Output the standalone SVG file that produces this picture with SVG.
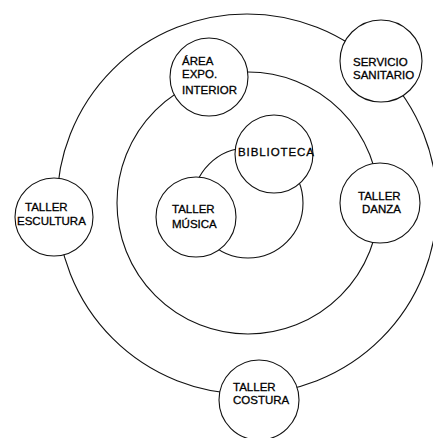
<svg xmlns="http://www.w3.org/2000/svg" width="433" height="438" viewBox="0 0 433 438">
<style>
.ring{fill:none;stroke:#111;stroke-width:1.1}
.node{fill:#fff;stroke:#111;stroke-width:1.1}
text{font-family:"Liberation Sans",Arial,sans-serif;font-size:11.5px;fill:#000;stroke:#000;stroke-width:0.3}
</style>
<rect width="433" height="438" fill="#fff"/>
<g id="connectors">
<circle class="ring" cx="247" cy="204" r="190"/>
<circle class="ring" cx="248" cy="203" r="131"/>
<circle class="ring" cx="248" cy="203" r="55"/>
</g>
<g id="area-expo"><circle class="node" cx="209" cy="77" r="39"/><text x="182" y="65">ÁREA</text><text x="182" y="78">EXPO.</text><text x="182" y="94">INTERIOR</text></g>
<g id="servicio"><circle class="node" cx="381" cy="61" r="41"/><text x="353" y="66">SERVICIO</text><text x="353" y="79">SANITARIO</text></g>
<g id="escultura"><circle class="node" cx="54" cy="217" r="39"/><text x="25" y="211">TALLER</text><text x="17" y="225">ESCULTURA</text></g>
<g id="biblioteca"><circle class="node" cx="274" cy="154" r="39"/><text x="238" y="156" textLength="76">BIBLIOTECA</text></g>
<g id="musica"><circle class="node" cx="196" cy="217" r="40"/><text x="172" y="213">TALLER</text><text x="172" y="228">MÚSICA</text></g>
<g id="danza"><circle class="node" cx="380" cy="203" r="40"/><text x="358" y="200">TALLER</text><text x="362" y="213">DANZA</text></g>
<g id="costura"><circle class="node" cx="259" cy="400" r="40"/><text x="233" y="391">TALLER</text><text x="233" y="404">COSTURA</text></g>
</svg>
